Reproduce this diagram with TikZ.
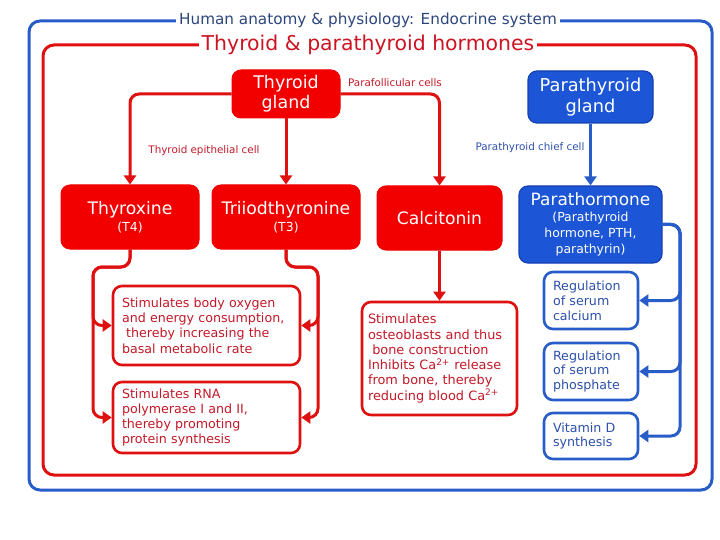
\documentclass[tikz,border=0pt]{standalone}
\usepackage{fontspec}
\setmainfont{DejaVu Sans}
\usetikzlibrary{arrows.meta}
\definecolor{fillred}{RGB}{242,0,0}
\definecolor{linered}{RGB}{222,16,16}
\definecolor{textred}{RGB}{195,25,40}
\definecolor{titlered}{RGB}{205,20,35}
\definecolor{fillblue}{RGB}{28,86,214}
\definecolor{edgeblue}{RGB}{20,64,176}
\definecolor{lineblue}{RGB}{40,92,200}
\definecolor{textblue}{RGB}{45,80,170}
\definecolor{titleblue}{RGB}{45,70,125}
\tikzset{
  redbox/.style={draw=fillred, fill=fillred, rounded corners=9bp, text=white, line width=1bp, align=center, inner sep=0pt},
  bluebox/.style={draw=edgeblue, fill=fillblue, rounded corners=9bp, text=white, line width=1.2bp, align=center, inner sep=0pt},
  redeff/.style={draw=linered, fill=white, rounded corners=9bp, text=textred, line width=2.6bp, align=left, inner xsep=9bp, inner ysep=0pt,
     font=\fontsize{12.7}{15.3}\selectfont},
  blueeff/.style={draw=lineblue, fill=white, rounded corners=9bp, text=textblue, line width=2.6bp, align=left, inner xsep=9bp, inner ysep=0pt,
     font=\fontsize{12.7}{15}\selectfont},
  redcon/.style={draw=linered, line width=3bp, rounded corners=9bp, -{Triangle[width=12bp,length=9bp]}},
  bluecon/.style={draw=lineblue, line width=3bp, rounded corners=9bp, -{Triangle[width=12bp,length=9bp]}},
  lbl/.style={font=\fontsize{10.4}{12}\selectfont, inner sep=1bp}
}
\begin{document}
\begin{tikzpicture}[x=1bp,y=-1bp]
\useasboundingbox (0,0) rectangle (720,540);
% frames
\draw[lineblue, line width=3bp, rounded corners=11bp] (29,21) rectangle (712,490);
\draw[linered, line width=3bp, rounded corners=11bp] (43,45) rectangle (696,475);
\node[fill=white, text=titleblue, inner xsep=3bp, inner ysep=1bp, font=\fontsize{15.3}{17}\selectfont] (t1) at (368,20) {Human anatomy \& physiology: Endocrine system};
\node[fill=white, text=titlered, inner xsep=3bp, inner ysep=1bp, font=\fontsize{20.5}{23}\selectfont] (t2) at (368,45) {Thyroid \& parathyroid hormones};
% top level
\node[redbox, minimum width=108bp, minimum height=48bp, font=\fontsize{17.5}{20}\selectfont] (tg) at (286,94) {Thyroid\\gland};
\node[bluebox, minimum width=125bp, minimum height=52bp, font=\fontsize{17.8}{21}\selectfont] (pg) at (590.5,97) {Parathyroid\\gland};
% hormones
\node[redbox, minimum width=138bp, minimum height=64bp, font=\fontsize{12.5}{15}\selectfont] (thx) at (130,217) {{\fontsize{17.3}{18}\selectfont Thyroxine}\\[2bp](T4)};
\node[redbox, minimum width=148bp, minimum height=64bp, font=\fontsize{12.5}{15}\selectfont] (tri) at (286,217) {{\fontsize{17.3}{18}\selectfont Triiodthyronine}\\[2bp](T3)};
\node[redbox, minimum width=125bp, minimum height=64bp, font=\fontsize{17.2}{20}\selectfont] (calc) at (439.5,218) {Calcitonin};
\node[bluebox, minimum width=143bp, minimum height=77bp, font=\fontsize{12.5}{16}\selectfont] (pth) at (590.5,224.5) {{\fontsize{17}{18}\selectfont Parathormone}\\(Parathyroid\\hormone, PTH,\\parathyrin)};
% effects
\node[redeff, minimum width=187bp, minimum height=79bp, text width=169bp] (e1) at (206.5,325.5) {Stimulates body oxygen\\and energy consumption,\\\ thereby increasing the\\basal metabolic rate};
\node[redeff, minimum width=187bp, minimum height=71bp, text width=169bp] (e2) at (206.5,417.5) {Stimulates RNA\\polymerase I and II,\\thereby promoting\\protein synthesis};
\node[redeff, minimum width=155bp, minimum height=113bp, text width=143bp, inner xsep=6bp, font=\fontsize{12.9}{15.3}\selectfont] (ceff) at (439.5,358.5) {Stimulates\\osteoblasts and thus\\\ bone construction\\Inhibits Ca\textsuperscript{2+} release\\from bone, thereby\\reducing blood Ca\textsuperscript{2+}};
\node[blueeff, minimum width=94bp, minimum height=57bp, text width=76bp] (r1) at (591,300.5) {Regulation\\of serum\\calcium};
\node[blueeff, minimum width=94bp, minimum height=57bp, text width=76bp] (r2) at (591,371.5) {Regulation\\of serum\\phosphate};
\node[blueeff, minimum width=94bp, minimum height=46bp, text width=76bp] (r3) at (591,436) {Vitamin D\\synthesis};
% labels
\node[lbl, text=textred] (l1) at (204,151) {Thyroid epithelial cell};
\node[lbl, text=textred] (l2) at (395,83) {Parafollicular cells};
\node[lbl, text=textblue] (l3) at (530,148) {Parathyroid chief cell};
% connectors
\draw[redcon] (tg.west) -| (thx.north);
\draw[redcon] (tg.south) -- (tri.north);
\draw[redcon] (tg.east) -| (calc.north);
\draw[redcon] (calc.south) -- (ceff.north);
\draw[bluecon] (pg.south) -- (pth.north);
\coordinate (lj) at (93,267);
\coordinate (rj) at (318,267);
\draw[redcon] (thx.south) |- (lj) |- (e1.west);
\draw[redcon] (thx.south) |- (lj) |- (e2.west);
\draw[redcon] (tri.south) |- (rj) |- (e1.east);
\draw[redcon] (tri.south) |- (rj) |- (e2.east);
\coordinate (pj) at (680,224.5);
\draw[bluecon] (pth.east) -- (pj) |- (r1.east);
\draw[bluecon] (pth.east) -- (pj) |- (r2.east);
\draw[bluecon] (pth.east) -- (pj) |- (r3.east);
\end{tikzpicture}
\end{document}
